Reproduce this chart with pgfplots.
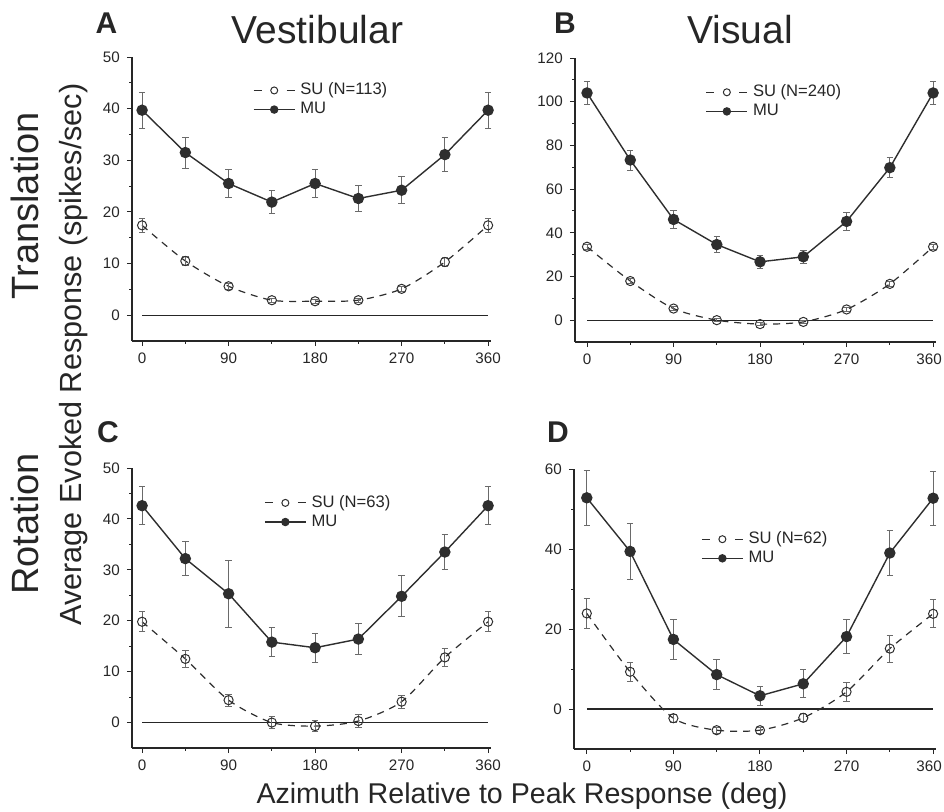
\documentclass[border=0pt]{standalone}
\usepackage{pgfplots}
\pgfplotsset{compat=1.18}
\usepackage{pgfplotstable}
\usepackage{fontspec}
\setmainfont{Liberation Sans}
\definecolor{ln}{HTML}{2E2E2E}
\definecolor{eb}{HTML}{6A6A6A}

\pgfplotstableread{
x y e
0 39.7 3.5
45 31.5 3.0
90 25.5 2.7
135 21.9 2.2
180 25.5 2.7
225 22.6 2.5
270 24.2 2.6
315 31.1 3.3
360 39.7 3.5
}\AMU
\pgfplotstableread{
x y e
0 17.4 1.3
45 10.5 0.9
90 5.6 0.6
135 2.9 0.4
180 2.7 0.4
225 2.9 0.4
270 5.1 0.5
315 10.3 0.8
360 17.4 1.3
}\ASU
\pgfplotstableread{
x y e
0 104 5.3
45 73.3 4.6
90 46.1 4.0
135 34.6 3.5
180 26.7 3.0
225 29.0 3.0
270 45.2 4.0
315 69.8 4.5
360 104 5.3
}\BMU
\pgfplotstableread{
x y e
0 33.6 1.2
45 17.9 1.0
90 5.3 0.9
135 0.0 0.7
180 -1.8 0.7
225 -0.8 0.7
270 4.9 0.8
315 16.6 1.0
360 33.6 1.2
}\BSU
\pgfplotstableread{
x y e
0 42.6 3.7
45 32.2 3.3
90 25.3 6.6
135 15.8 2.9
180 14.7 2.8
225 16.4 3.0
270 24.8 4.0
315 33.5 3.5
360 42.6 3.7
}\CMU
\pgfplotstableread{
x y e
0 19.8 2.0
45 12.5 1.6
90 4.4 1.2
135 0.0 1.2
180 -0.7 1.1
225 0.3 1.2
270 4.1 1.3
315 12.8 1.7
360 19.8 2.0
}\CSU
\pgfplotstableread{
x y e
0 52.8 6.8
45 39.4 6.9
90 17.4 5.1
135 8.6 3.8
180 3.3 2.4
225 6.3 3.5
270 18.1 4.2
315 39.0 5.7
360 52.7 6.8
}\DMU
\pgfplotstableread{
x y e
0 23.9 3.7
45 9.3 2.4
90 -2.3 1.0
135 -5.3 0.8
180 -5.3 0.8
225 -2.2 1.0
270 4.3 2.4
315 15.1 3.4
360 23.8 3.5
}\DSU

\pgfplotsset{
  panel/.style={
    scale only axis,
    axis lines=left,
    axis line style={-, black!85, line width=0.6pt},
    tick align=outside,
    tick style={black!85, line width=0.5pt},
    major tick length=2.6pt,
    minor tick length=1.4pt,
    xtick={0,90,180,270,360},
    minor x tick num=1,
    minor y tick num=1,
    xmax=363,
    ticklabel style={font=\fontsize{7.6}{9}\selectfont, text=black!85},
    /pgf/number format/assume math mode=true,
    clip=false,
    legend cell align=left,
    legend style={draw=none, fill=none, inner sep=0pt, anchor=west,
      font=\fontsize{8.3}{9}\selectfont, text=black!85,
      row sep=0.6pt, nodes={inner xsep=2.5pt, inner ysep=0.8pt}},
  },
  rightlab/.style={xticklabels={0,90,180,270,\hspace{-4pt}360}},
  mu/.style={ln, line width=0.7pt, mark=*, mark size=2.5pt,
    mark options={fill=ln, draw=ln, solid},
    legend image code/.code={\draw[##1, mark size=1.75pt] (0cm,0cm) -- (0.72cm,0cm);
      \draw[##1, mark size=1.75pt, draw=none] plot coordinates {(0.36cm,0cm)};},
    error bars/.cd, y dir=both, y explicit,
    error bar style={eb, line width=0.45pt, solid},
    error mark options={rotate=90, mark size=1.6pt, eb, line width=0.45pt}},
  su/.style={ln, line width=0.6pt, dash pattern=on 3.5pt off 3pt, smooth, tension=0.45,
    mark=o, mark size=2.3pt, mark options={fill=white, draw=ln, solid, line width=0.5pt},
    legend image code/.code={\draw[##1, mark size=1.75pt, solid] (0cm,0cm) -- (0.14cm,0cm) (0.58cm,0cm) -- (0.72cm,0cm);
      \draw[##1, mark size=1.75pt, draw=none] plot coordinates {(0.36cm,0cm)};},
    error bars/.cd, y dir=both, y explicit,
    error bar style={eb, line width=0.45pt, solid},
    error mark options={rotate=90, mark size=1.6pt, eb, line width=0.45pt}},
  zero/.style={black!85, line width=0.55pt, forget plot},
}

\begin{document}
\begin{tikzpicture}
\path[use as bounding box] (0,0) rectangle (472pt,405.5pt);

% Panel A
\begin{axis}[panel, at={(66pt,235pt)}, anchor=south west,
  width=179.5pt, height=142pt, xmin=-10.5, ymin=-5, ymax=50,
  ytick={0,10,20,30,40,50},
  legend style={at={(axis cs:115,41.7)}}]
\addplot[zero] coordinates {(0,0) (360,0)};
\addplot[su] table[x=x, y=y, y error=e] {\ASU};
\addlegendentry{SU (N=113)}
\addplot[mu] table[x=x, y=y, y error=e] {\AMU};
\addlegendentry{MU}
\end{axis}

% Panel B
\begin{axis}[panel, rightlab, at={(287.5pt,234.5pt)}, anchor=south west,
  width=180.5pt, height=142pt, xmin=-12.5, ymin=-10, ymax=120,
  ytick={0,20,40,60,80,100,120},
  legend style={at={(axis cs:123,100)}}]
\addplot[zero] coordinates {(0,0) (360,0)};
\addplot[su] table[x=x, y=y, y error=e] {\BSU};
\addlegendentry{SU (N=240)}
\addplot[mu] table[x=x, y=y, y error=e] {\BMU};
\addlegendentry{MU}
\end{axis}

% Panel C
\begin{axis}[panel, at={(66pt,31.5pt)}, anchor=south west,
  width=179.5pt, height=140pt, xmin=-10.5, ymin=-5, ymax=50,
  ytick={0,10,20,30,40,50},
  legend style={at={(axis cs:126.6,41.3)}}]
\addplot[zero] coordinates {(0,0) (360,0)};
\addplot[su] table[x=x, y=y, y error=e] {\CSU};
\addlegendentry{SU (N=63)}
\addplot[mu] table[x=x, y=y, y error=e] {\CMU};
\addlegendentry{MU}
\end{axis}

% Panel D
\begin{axis}[panel, rightlab, at={(287pt,31pt)}, anchor=south west,
  width=181pt, height=140pt, xmin=-13.3, ymin=-10, ymax=60,
  ytick={0,20,40,60},
  legend style={at={(axis cs:118.5,40.1)}}]
\addplot[zero] coordinates {(0,0) (360,0)};
\addplot[su] table[x=x, y=y, y error=e] {\DSU};
\addlegendentry{SU (N=62)}
\addplot[mu] table[x=x, y=y, y error=e] {\DMU};
\addlegendentry{MU}
\end{axis}

% Texts
\node[anchor=base, text=black!85, font=\fontsize{19.5}{20}\selectfont] at (158.75pt,384pt) {Vestibular};
\node[anchor=base, text=black!85, font=\fontsize{19.5}{20}\selectfont] at (370pt,384pt) {Visual};
\node[rotate=90, text=black!85, font=\fontsize{19}{20}\selectfont] at (12.5pt,302.5pt) {Translation};
\node[rotate=90, text=black!85, font=\fontsize{19}{20}\selectfont] at (12.5pt,143.5pt) {Rotation};
\node[rotate=90, text=black!85, font=\fontsize{15.3}{16}\selectfont] at (37pt,228.25pt) {Average Evoked Response (spikes/sec)};
\node[anchor=base, text=black!85, font=\fontsize{14.3}{15}\selectfont] at (261pt,4pt) {Azimuth Relative to Peak Response (deg)};
\node[text=black!85, font=\fontsize{15}{16}\selectfont\bfseries] at (53.25pt,394pt) {A};
\node[text=black!85, font=\fontsize{15}{16}\selectfont\bfseries] at (282.5pt,394pt) {B};
\node[text=black!85, font=\fontsize{15}{16}\selectfont\bfseries] at (54pt,189.5pt) {C};
\node[text=black!85, font=\fontsize{15}{16}\selectfont\bfseries] at (279pt,189.5pt) {D};
\end{tikzpicture}
\end{document}
